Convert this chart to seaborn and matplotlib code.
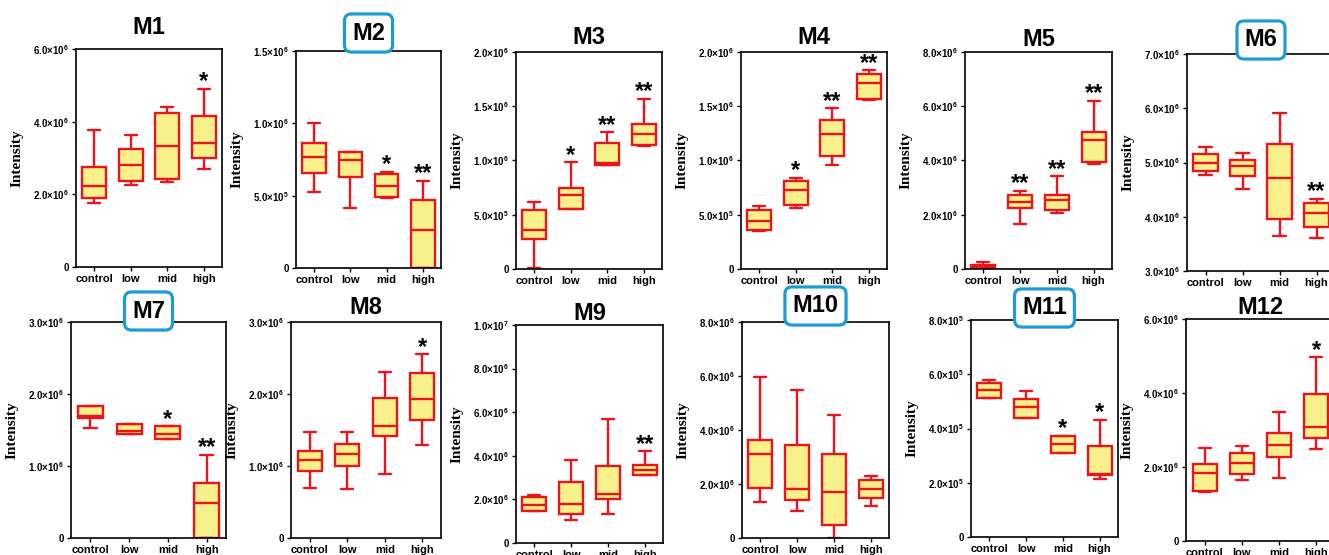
import numpy as np
import pandas as pd
import matplotlib
matplotlib.use("Agg")
import matplotlib.pyplot as plt
import seaborn as sns

# Groups on the x axis
groups = ["control", "low", "mid", "high"]
titles = ["M1", "M2", "M3", "M4", "M5", "M6", "M7", "M8", "M9", "M10", "M11", "M12"]
highlighted = ["M2", "M6", "M7", "M10", "M11"]

# five-number summaries per group: min, q1, median, q3, max (in units of `scales`)
m1 = [[1.75, 1.90, 2.23, 2.76, 3.77], [2.25, 2.36, 2.82, 3.24, 3.63], [2.35, 2.42, 3.34, 4.23, 4.39], [2.69, 3.01, 3.42, 4.16, 4.90]]
m2 = [[5.27, 6.58, 7.64, 8.66, 10.0], [4.16, 6.30, 7.50, 7.99, 7.99], [4.87, 4.92, 5.68, 6.49, 6.65], [0.0, 0.0, 2.66, 4.73, 6.00]]
m3 = [[0.05, 2.80, 3.60, 5.40, 6.20], [5.50, 5.56, 6.85, 7.43, 9.83], [9.55, 9.55, 9.77, 11.6, 12.6], [11.3, 11.4, 12.4, 13.4, 15.7]]
m4 = [[3.50, 3.59, 4.39, 5.47, 5.81], [5.65, 5.87, 7.31, 8.08, 8.39], [9.60, 10.4, 12.4, 13.7, 14.8], [15.6, 15.7, 17.1, 18.0, 18.3]]
m5 = [[0.0, 0.0, 0.06, 0.16, 0.25], [1.66, 2.25, 2.46, 2.73, 2.89], [2.05, 2.16, 2.53, 2.73, 3.42], [3.88, 3.93, 4.77, 5.06, 6.20]]
m6 = [[4.77, 4.84, 5.00, 5.16, 5.29], [4.51, 4.75, 4.94, 5.05, 5.18], [3.64, 3.95, 4.71, 5.35, 5.91], [3.61, 3.82, 4.07, 4.25, 4.33]]
m7 = [[1.53, 1.66, 1.70, 1.84, 1.84], [1.44, 1.44, 1.49, 1.58, 1.58], [1.375, 1.375, 1.45, 1.55, 1.55], [0.0, 0.0, 0.48, 0.77, 1.15]]
m8 = [[0.70, 0.93, 1.08, 1.21, 1.47], [0.68, 1.00, 1.16, 1.31, 1.47], [0.89, 1.41, 1.56, 1.94, 2.31], [1.29, 1.64, 1.93, 2.29, 2.55]]
m9 = [[1.48, 1.48, 1.74, 2.11, 2.20], [1.07, 1.31, 1.79, 2.79, 3.83], [1.34, 2.03, 2.26, 3.54, 5.71], [3.13, 3.13, 3.36, 3.59, 4.20]]
m10 = [[1.35, 1.86, 3.10, 3.63, 5.95], [0.99, 1.40, 1.81, 3.46, 5.49], [0.0, 0.49, 1.69, 3.12, 4.56], [1.20, 1.47, 1.80, 2.14, 2.28]]
m11 = [[5.14, 5.14, 5.42, 5.69, 5.78], [4.39, 4.39, 4.81, 5.10, 5.39], [3.10, 3.10, 3.42, 3.72, 3.72], [2.13, 2.30, 2.33, 3.35, 4.33]]
m12 = [[1.32, 1.36, 1.83, 2.07, 2.52], [1.64, 1.82, 2.12, 2.39, 2.57], [1.69, 2.28, 2.59, 2.91, 3.50], [2.48, 2.79, 3.07, 3.97, 4.96]]
panels = [m1, m2, m3, m4, m5, m6, m7, m8, m9, m10, m11, m12]
scales = [1e6, 1e5, 1e5, 1e5, 1e6, 1e6, 1e6, 1e6, 1e6, 1e6, 1e5, 1e6]

# significance marks per group
stars = [
    ["", "", "", "*"], ["", "", "*", "**"], ["", "*", "**", "**"], ["", "*", "**", "**"],
    ["", "**", "**", "**"], ["", "", "", "**"], ["", "", "*", "**"], ["", "", "", "*"],
    ["", "", "", "**"], ["", "", "", ""], ["", "", "*", "*"], ["", "", "", "*"],
]

# y ticks per panel
yticks = [
    [0, 2e6, 4e6, 6e6], [0, 5e5, 1e6, 1.5e6], [0, 5e5, 1e6, 1.5e6, 2e6], [0, 5e5, 1e6, 1.5e6, 2e6],
    [0, 2e6, 4e6, 6e6, 8e6], [3e6, 4e6, 5e6, 6e6, 7e6], [0, 1e6, 2e6, 3e6], [0, 1e6, 2e6, 3e6],
    [0, 2e6, 4e6, 6e6, 8e6, 1e7], [0, 2e6, 4e6, 6e6, 8e6], [0, 2e5, 4e5, 6e5, 8e5], [0, 2e6, 4e6, 6e6],
]

# axes frames in pixels: left, top, right, bottom ; title centre y
frames = [
    (76, 49, 222, 267), (296, 51, 441, 268), (516, 52, 662, 269), (741, 52, 887, 269),
    (965, 52, 1112, 269), (1187, 54, 1335, 271), (71, 322, 226, 538), (291, 322, 441, 538),
    (516, 325, 663, 543), (742, 322, 889, 538), (971, 320, 1118, 537), (1186, 319, 1335, 541),
]
title_y = [27, 33, 38, 38, 39, 40, 311, 308, 313, 306, 308, 308]

W, H = 1329, 555
red = "#e8161c"
yellow = "#f8f08a"


def sci(v):
    if v == 0:
        return "0"
    e = int(np.floor(np.log10(v)))
    return "%.1f×10$^{%d}$" % (v / 10 ** e, e)


sns.set_theme(style="ticks")
plt.rcParams["font.family"] = ["Liberation Sans", "DejaVu Sans"]
plt.rcParams["mathtext.fontset"] = "custom"
plt.rcParams["mathtext.rm"] = "Liberation Sans:bold"
plt.rcParams["mathtext.default"] = "rm"
for key in ["text.color", "axes.labelcolor", "xtick.color", "ytick.color"]:
    plt.rcParams[key] = "black"

fig = plt.figure(figsize=(W / 100, H / 100), dpi=100)

for i, vals in enumerate(panels):
    l, t, r, b = frames[i]
    ax = fig.add_axes([l / W, 1 - b / H, (r - l) / W, (b - t) / H])
    df = pd.DataFrame({
        "group": np.repeat(groups, 5),
        "value": np.ravel(vals) * scales[i],
    })
    sns.boxplot(data=df, x="group", y="value", order=groups, whis=(0, 100),
                width=0.65, color=yellow, saturation=1, linecolor=red,
                linewidth=1.7, ax=ax)
    ax.set_ylim(yticks[i][0], yticks[i][-1])
    ax.set_yticks(yticks[i])
    ax.set_yticklabels([sci(v) for v in yticks[i]])
    ax.tick_params(axis="y", length=3, width=1, pad=2, labelsize=7)
    ax.tick_params(axis="x", length=3, width=1, pad=2, labelsize=8)
    for lab in ax.get_xticklabels() + ax.get_yticklabels():
        lab.set_fontweight("bold")
    for s in ax.spines.values():
        s.set_visible(True)
        s.set_linewidth(1.2)
        s.set_color("black")
    ax.set_xlabel("")
    ax.set_ylabel("Intensity", fontfamily="Liberation Serif", fontweight="bold", fontsize=11)
    ax.yaxis.set_label_coords(-52 / (r - l), 0.5)

    # significance stars above the upper whisker
    for j, mark in enumerate(stars[i]):
        if mark:
            ax.annotate(mark, xy=(j, max(vals[j]) * scales[i]), xytext=(0, 0.5),
                        textcoords="offset points", ha="center", va="baseline",
                        fontsize=17, fontweight="bold", color="black")

    box = None
    if titles[i] in highlighted:
        box = dict(boxstyle="round,pad=0.32,rounding_size=0.3", fc="white",
                   ec="#1c9bd7", lw=2.3)
    fig.text((l + r) / 2 / W, 1 - title_y[i] / H, titles[i], ha="center", va="center",
             fontsize=17, fontweight="bold", bbox=box)

fig.savefig("out.png", dpi=100)
